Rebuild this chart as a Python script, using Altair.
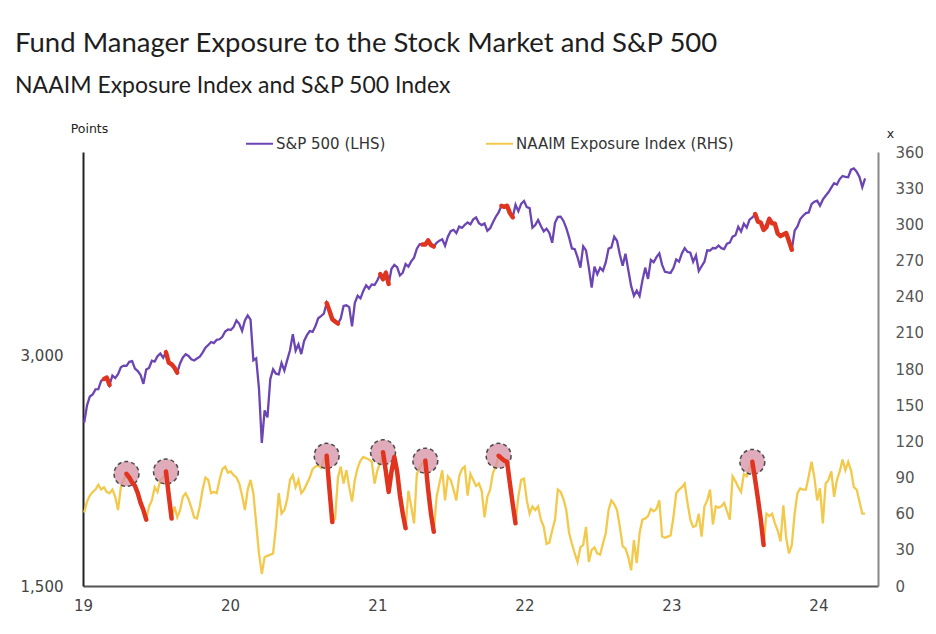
import altair as alt
import pandas as pd

# ---------------- data (weekly) ----------------
spx_2019 = [2450, 2580, 2650, 2665, 2707, 2708, 2776, 2793, 2804, 2743, 2822, 2800, 2834,
            2893, 2907, 2905, 2940, 2946, 2881, 2860, 2826, 2752, 2873, 2887, 2950, 2942,
            2990, 3014, 2977, 3026, 2932, 2919, 2889, 2847, 2926, 2979, 3007, 2992, 2962,
            2952, 2970, 2986, 3023, 3067, 3093, 3120, 3110, 3141, 3146, 3169, 3221, 3240]
spx_2020 = [3235, 3265, 3330, 3295, 3226, 3328, 3380, 3338, 2954, 2972, 2711, 2305, 2541,
            2489, 2790, 2875, 2837, 2831, 2930, 2864, 2955, 3044, 3194, 3041, 3098, 3009,
            3130, 3185, 3225, 3216, 3271, 3351, 3373, 3397, 3508, 3427, 3341, 3319, 3298,
            3348, 3477, 3484, 3465, 3270, 3510, 3585, 3558, 3638, 3699, 3663, 3709, 3703, 3756]
spx_2021 = [3825, 3768, 3841, 3714, 3887, 3934, 3907, 3811, 3842, 3943, 3913, 3975, 4020,
            4129, 4185, 4180, 4181, 4233, 4174, 4156, 4204, 4230, 4247, 4166, 4281, 4352,
            4370, 4327, 4412, 4395, 4437, 4468, 4442, 4509, 4535, 4459, 4433, 4455, 4357,
            4391, 4471, 4545, 4605, 4697, 4683, 4698, 4595, 4538, 4712, 4620, 4725, 4766]
spx_2022 = [4677, 4663, 4398, 4432, 4500, 4419, 4349, 4385, 4329, 4204, 4463, 4543, 4546,
            4488, 4392, 4272, 4132, 4123, 4024, 3901, 4158, 4109, 3901, 3675, 3912, 3825,
            3899, 3863, 3962, 4130, 4145, 4280, 4228, 4058, 3924, 4067, 3873, 3693, 3586,
            3640, 3583, 3752, 3901, 3771, 3993, 3965, 4026, 4072, 3934, 3852, 3845, 3840]
spx_2023 = [3895, 3999, 3973, 4071, 4136, 4090, 4079, 3970, 4046, 3862, 3917, 3971, 4109,
            4105, 4138, 4133, 4169, 4136, 4124, 4192, 4205, 4282, 4299, 4410, 4348, 4450,
            4399, 4505, 4536, 4582, 4478, 4464, 4370, 4406, 4516, 4457, 4450, 4320, 4288,
            4308, 4327, 4224, 4117, 4358, 4415, 4514, 4559, 4595, 4604, 4719, 4755, 4770]
spx_2024 = [4697, 4784, 4840, 4891, 4959, 5027, 5006, 5089, 5137, 5124, 5117, 5234, 5254,
            5204, 5123, 4967, 5100]

naaim_vals = [
    61, 70, 75, 78, 80, 84, 80, 82, 78, 77, 80, 74, 63, 82, 88, 93, 90, 86, 83, 77,
    69, 63, 55, 66, 71, 82, 78, 88, 90, 95, 75, 56, 66, 57, 63, 74, 77, 72, 65, 57,
    56, 66, 80, 90, 88, 77, 78, 77, 88, 97, 99, 94, 95, 92, 90, 85, 75, 63, 80, 88,
    77, 52, 27, 10, 24, 25, 26, 27, 49, 77, 60, 63, 72, 88, 92, 82, 88, 77, 80, 85,
    90, 97, 99, 100, 98, 104, 108, 80, 53, 56, 90, 99, 85, 96, 82, 70, 88, 98, 104, 107,
    106, 105, 103, 85, 96, 102, 111, 95, 78, 95, 107, 95, 75, 60, 48, 79, 66, 52, 93, 98,
    102, 104, 80, 60, 45, 74, 85, 96, 71, 91, 88, 80, 71, 91, 97, 99, 75, 93, 88, 83,
    85, 79, 57, 74, 80, 94, 99, 108, 106, 104, 103, 85, 68, 52, 74, 88, 89, 71, 60, 66,
    63, 66, 55, 49, 35, 36, 46, 55, 80, 78, 72, 63, 44, 35, 27, 20, 32, 34, 49, 20,
    30, 32, 27, 26, 35, 44, 63, 71, 68, 63, 49, 33, 31, 24, 13, 38, 19, 44, 55, 56,
    58, 64, 62, 64, 71, 41, 40, 41, 42, 57, 77, 80, 82, 85, 69, 55, 49, 50, 60, 41,
    66, 71, 80, 51, 66, 65, 66, 69, 62, 55, 91, 87, 82, 78, 93, 91, 98, 103, 88, 72,
    55, 34, 60, 58, 60, 52, 46, 37, 67, 40, 27, 34, 60, 77, 81, 80, 80, 91, 103, 90,
    71, 81, 52, 85, 88, 95, 74, 88, 95, 105, 96, 103, 96, 82, 80, 70, 60, 60]

# highlighted stretches (start week index, end week index)
spx_red_ranges = [(7, 9), (29, 33), (86, 90), (105, 108), (120, 124), (148, 152), (238, 251)]
naaim_red_ranges = [(15, 22), (29, 31), (86, 88), (106, 114), (121, 124), (147, 153), (237, 241)]

series_names = ["S&P 500 (LHS)", "NAAIM Exposure Index (RHS)"]
year_ticks = [2019, 2020, 2021, 2022, 2023, 2024]
left_ticks = [1500, 3000]
right_ticks = [0, 30, 60, 90, 120, 150, 180, 210, 240, 270, 300, 330, 360]

# ---------------- tables ----------------
spx_vals = spx_2019 + spx_2020 + spx_2021 + spx_2022 + spx_2023 + spx_2024
dates = pd.date_range("2019-01-04", periods=len(spx_vals), freq="7D").strftime("%Y-%m-%d")

spx_df = pd.DataFrame({"date": dates, "spx": spx_vals, "series": series_names[0]})
naaim_df = pd.DataFrame({"date": dates, "naaim": naaim_vals, "series": series_names[1]})

spx_red = pd.concat([spx_df.iloc[a:b + 1].assign(seg=k) for k, (a, b) in enumerate(spx_red_ranges)])
naaim_red = pd.concat([naaim_df.iloc[a:b + 1].assign(seg=k) for k, (a, b) in enumerate(naaim_red_ranges)])
circles = naaim_df.iloc[[a for a, b in naaim_red_ranges]]

PURPLE = "#6b45b3"
YELLOW = "#f3c94c"
RED = "#e0341f"
LBL_FONT = "DejaVu Sans"
TITLE_FONT = "Lato"

x_enc = alt.X(
    "date:T",
    scale=alt.Scale(domain=[alt.DateTime(year=2019, month=1, date=1),
                            alt.DateTime(year=2024, month=5, date=28)]),
    axis=alt.Axis(values=[alt.DateTime(year=y, month=1, date=1) for y in year_ticks],
                  format="%y", title=None, ticks=False, grid=False, labelFlush=False,
                  domainColor="#555", domainWidth=2, labelPadding=12,
                  labelFont=LBL_FONT, labelFontSize=15, labelColor="#444"),
)

y_left = alt.Y(
    "spx:Q",
    scale=alt.Scale(type="log", domain=[1500, 5520], nice=False),
    axis=alt.Axis(orient="left", values=left_ticks, format=",", title="Points",
                  titleAngle=0, titleX=6, titleY=-24, titleAlign="center",
                  titleBaseline="middle", titleFont=LBL_FONT, titleFontSize=12.5,
                  titleFontWeight="normal", titleColor="#222",
                  ticks=False, grid=False, domainColor="#222", domainWidth=2,
                  labelPadding=20, labelFont=LBL_FONT, labelFontSize=15, labelColor="#444"),
)

y_right = alt.Y(
    "naaim:Q",
    scale=alt.Scale(domain=[0, 360], nice=False),
    axis=alt.Axis(orient="right", values=right_ticks, title="x",
                  titleAngle=0, titleX=12, titleY=-19, titleAlign="center",
                  titleBaseline="middle", titleFont=LBL_FONT, titleFontSize=12.5,
                  titleFontWeight="normal", titleColor="#222",
                  ticks=False, grid=False, domainColor="#888", domainWidth=2,
                  labelPadding=17, labelFont=LBL_FONT, labelFontSize=15, labelColor="#555"),
)

color_enc = alt.Color(
    "series:N",
    scale=alt.Scale(domain=series_names, range=[PURPLE, YELLOW]),
    legend=alt.Legend(orient="none", legendX=162, legendY=-23, direction="horizontal",
                      title=None, symbolType="stroke", symbolSize=729, symbolStrokeWidth=2,
                      labelFont=LBL_FONT, labelFontSize=15, labelColor="#333",
                      labelLimit=0, columnPadding=96, labelOffset=2),
)

naaim_line = alt.Chart(naaim_df).mark_line(strokeWidth=2.3).encode(x=x_enc, y=y_right, color=color_enc)
naaim_circles = alt.Chart(circles).mark_point(
    shape="circle", size=620, filled=True, fill="#d58fa3", fillOpacity=0.75,
    stroke="#4a4a4a", strokeWidth=1.5, strokeDash=[4, 3], opacity=1
).encode(x=x_enc, y=y_right)
naaim_hl = alt.Chart(naaim_red).mark_line(color=RED, strokeWidth=4.5, strokeCap="round",
                                           strokeJoin="round").encode(
    x=x_enc, y=y_right, detail="seg:N")

spx_line = alt.Chart(spx_df).mark_line(strokeWidth=2.3).encode(x=x_enc, y=y_left, color=color_enc)
spx_hl = alt.Chart(spx_red).mark_line(color=RED, strokeWidth=4.5, strokeCap="round",
                                       strokeJoin="round").encode(
    x=x_enc, y=y_left, detail="seg:N")

right_group = alt.layer(naaim_line, naaim_circles, naaim_hl)
left_group = alt.layer(spx_line, spx_hl)

chart = alt.layer(right_group, left_group).resolve_scale(y="independent").properties(
    width=795,
    height=434,
    autosize=alt.AutoSizeParams(type="none"),
    padding={"left": 75, "top": 144, "right": 45, "bottom": 40},
    title=alt.TitleParams(
        text="Fund Manager Exposure to the Stock Market and S&P 500",
        subtitle="NAAIM Exposure Index and S&P 500 Index",
        anchor="start", frame="group", dx=-68, offset=24,
        font=TITLE_FONT, fontSize=27.5, fontWeight="normal", color="#1e1e1e",
        subtitleFont=TITLE_FONT, subtitleFontSize=23, subtitleColor="#1e1e1e",
        subtitlePadding=18,
    ),
).configure_view(strokeWidth=0)

chart.save("out.html", embed_options={"renderer": "svg", "actions": False})
